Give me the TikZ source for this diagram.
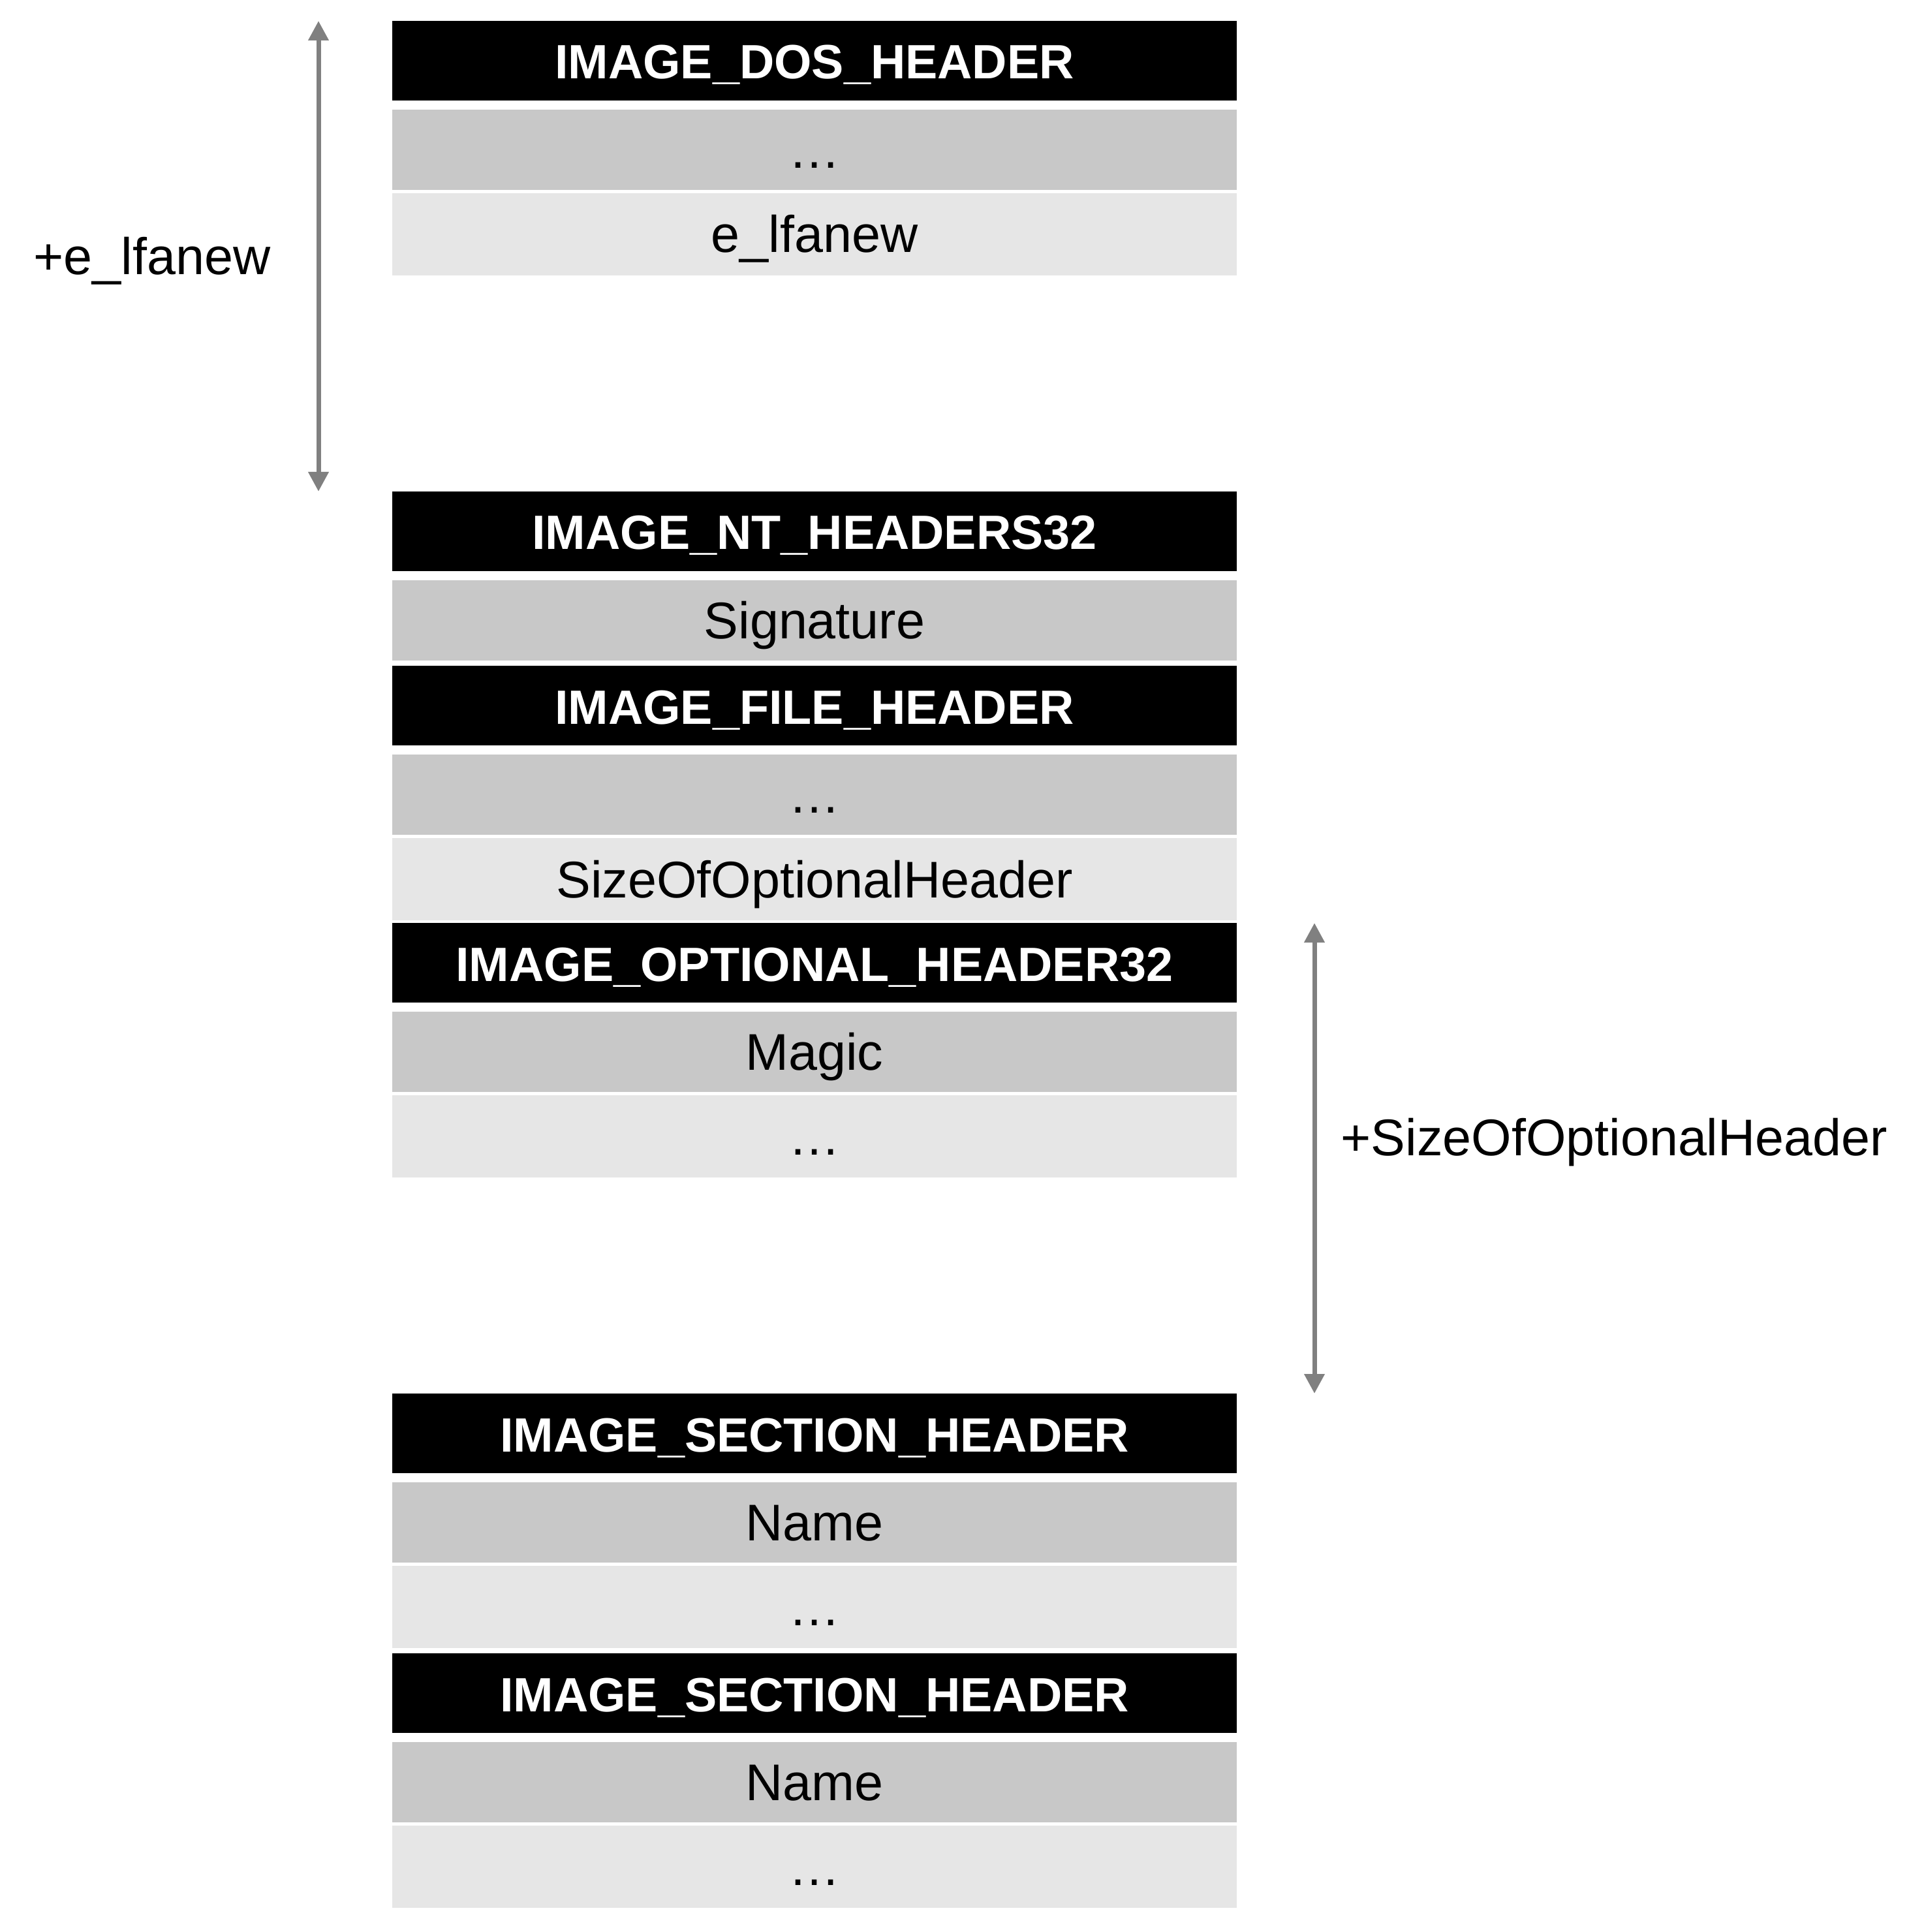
\documentclass[tikz,border=0pt]{standalone}
\usepackage{fontspec}
\setmainfont{Liberation Sans}
\usetikzlibrary{positioning,arrows.meta}

\definecolor{fieldgray}{RGB}{200,200,200}
\definecolor{fieldlight}{RGB}{230,230,230}
\definecolor{arrowgray}{RGB}{128,128,128}

\begin{document}
\begin{tikzpicture}[
      node distance=0.14cm,
      box/.style={rectangle, inner sep=0pt, outer sep=0pt, minimum width=12.94cm, align=center,
        text height=0.56cm, text depth=0cm, font=\fontsize{22.5pt}{27pt}\selectfont},
      hdr/.style={box, fill=black, text=white, minimum height=1.22cm, font=\fontsize{21pt}{25pt}\selectfont\bfseries},
      fld/.style={box, fill=fieldgray, minimum height=1.23cm},
      fldlight/.style={box, fill=fieldlight, minimum height=1.26cm},
      lbl/.style={inner sep=0pt, text height=0.56cm, text depth=0cm, font=\fontsize{22.5pt}{27pt}\selectfont},
      offarrow/.style={{Triangle[length=0.3cm,width=0.3cm]}-{Triangle[length=0.3cm,width=0.3cm]}, line width=0.07cm, draw=arrowgray}
    ]
    \useasboundingbox (0,0) rectangle (29.47,-29.60);
    % DOS header
    \node[hdr, anchor=north] (dos) at (12.48,-0.32) {IMAGE\_DOS\_HEADER};
    \node[fld, below=of dos] (dosdots) {…};
    \node[fldlight, below=0.05cm of dosdots] (lfanew) {e\_lfanew};
    % NT headers
    \node[hdr, below=3.31cm of lfanew] (nt) {IMAGE\_NT\_HEADERS32};
    \node[fld, below=of nt] (sig) {Signature};
    \node[hdr, below=0.08cm of sig] (file) {IMAGE\_FILE\_HEADER};
    \node[fld, below=of file] (filedots) {…};
    \node[fldlight, below=0.05cm of filedots] (sizeopt) {SizeOfOptionalHeader};
    \node[hdr, below=0.04cm of sizeopt] (opt) {IMAGE\_OPTIONAL\_HEADER32};
    \node[fld, below=of opt] (magic) {Magic};
    \node[fldlight, below=0.05cm of magic] (optdots) {…};
    % section headers
    \node[hdr, below=3.31cm of optdots] (secA) {IMAGE\_SECTION\_HEADER};
    \node[fld, below=of secA] (nameA) {Name};
    \node[fldlight, below=0.05cm of nameA] (secdotsA) {…};
    \node[hdr, below=0.08cm of secdotsA] (secB) {IMAGE\_SECTION\_HEADER};
    \node[fld, below=of secB] (nameB) {Name};
    \node[fldlight, below=0.05cm of nameB] (secdotsB) {…};
    % offsets
    \coordinate[left=1.13cm of dos.north west] (dostop);
    \coordinate[left=1.13cm of nt.north west] (nttop);
    \coordinate[right=1.19cm of opt.north east] (opttop);
    \coordinate[right=1.19cm of secA.north east] (sectop);
    \draw[offarrow] (dostop) -- node[lbl, midway, left=0.7cm] (lfalbl) {+e\_lfanew} (nttop);
    \draw[offarrow] (opttop) -- node[lbl, pos=0.455, right=0.37cm] (sizelbl) {+SizeOfOptionalHeader} (sectop);
  \end{tikzpicture}
\end{document}
